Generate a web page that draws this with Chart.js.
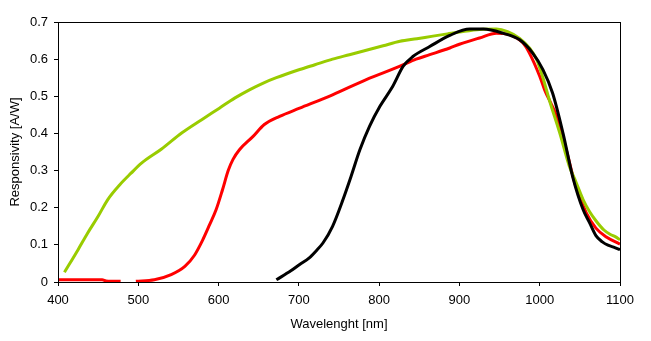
<!DOCTYPE html>
<html>
<head>
<meta charset="utf-8">
<script src="https://cdn.jsdelivr.net/npm/chart.js@4/dist/chart.umd.min.js"></script>
<style>
  html, body { margin: 0; padding: 0; background: #fff; }
  canvas { display: block; }
</style>
</head>
<body>
<canvas id="resp" width="651" height="341"></canvas>
<script>
// wavelength [nm] and responsivity [A/W]
const greenNm = [408, 425, 437, 450, 462, 477, 491, 504, 529, 554, 579, 601, 620, 639, 655, 672, 701, 720, 742, 763, 784, 805, 826, 847, 867, 885, 900, 925, 946, 960, 975, 988, 996, 1004, 1012, 1025, 1037, 1045, 1054, 1062, 1070, 1080, 1088, 1094, 1100];
const greenResp = [0.026, 0.087, 0.132, 0.177, 0.222, 0.262, 0.293, 0.32, 0.358, 0.401, 0.437, 0.468, 0.495, 0.518, 0.535, 0.55, 0.572, 0.585, 0.6, 0.612, 0.624, 0.636, 0.648, 0.655, 0.662, 0.668, 0.673, 0.68, 0.681, 0.674, 0.656, 0.628, 0.6, 0.55, 0.49, 0.401, 0.311, 0.27, 0.222, 0.19, 0.165, 0.14, 0.128, 0.122, 0.114];

const redNm = [400, 430, 455, 460, 478, 488, 497, 520, 541, 558, 570, 580, 589, 597, 605, 612, 618, 626, 643, 657, 676, 701, 742, 784, 826, 846, 863, 888, 900, 925, 946, 962, 979, 987, 1000, 1006, 1021, 1033, 1045, 1058, 1070, 1083, 1100];
const redResp = [0.006, 0.006, 0.006, 0.003, 0.002, null, 0.002, 0.006, 0.02, 0.042, 0.072, 0.112, 0.155, 0.195, 0.249, 0.3, 0.33, 0.356, 0.392, 0.424, 0.446, 0.468, 0.504, 0.545, 0.581, 0.6, 0.612, 0.63, 0.64, 0.657, 0.67, 0.666, 0.644, 0.617, 0.554, 0.518, 0.446, 0.356, 0.257, 0.186, 0.145, 0.121, 0.102];

const blackNm = [672, 690, 701, 713, 722, 730, 742, 755, 765, 776, 788, 801, 817, 830, 842, 863, 888, 913, 930, 954, 975, 991, 1004, 1016, 1029, 1041, 1054, 1062, 1070, 1078, 1085, 1092, 1100];
const blackResp = [0.006, 0.03, 0.047, 0.065, 0.085, 0.105, 0.15, 0.222, 0.284, 0.356, 0.419, 0.473, 0.527, 0.581, 0.607, 0.634, 0.664, 0.681, 0.681, 0.67, 0.652, 0.617, 0.572, 0.509, 0.401, 0.284, 0.195, 0.16, 0.125, 0.108, 0.099, 0.094, 0.087];

const toPoints = (xs, ys) => xs.map((x, i) => ({ x: x, y: ys[i] }));

// box round the plot area
const frame = {
  id: 'frame',
  afterDraw(chart) {
    const a = chart.chartArea;
    const ctx = chart.ctx;
    ctx.save();
    ctx.strokeStyle = '#000';
    ctx.lineWidth = 1;
    ctx.strokeRect(Math.round(a.left) + 0.5, Math.round(a.top) + 0.5, Math.round(a.right - a.left), Math.round(a.bottom - a.top));
    ctx.restore();
  }
};

const font = { family: '"Liberation Sans", Arial, sans-serif', size: 13 };

const ctx = document.getElementById('resp').getContext('2d');
const respChart = new Chart(ctx, {
  type: 'line',
  data: {
    datasets: [
      { label: 'black', data: toPoints(blackNm, blackResp), borderColor: '#000000' },
      { label: 'green', data: toPoints(greenNm, greenResp), borderColor: '#99cc00' },
      { label: 'red', data: toPoints(redNm, redResp), borderColor: '#ff0000' }
    ]
  },
  options: {
    responsive: false,
    animation: false,
    layout: { padding: { top: 22, right: 31, bottom: 0, left: 0 } },
    elements: {
      point: { radius: 0 },
      line: { borderWidth: 3, tension: 0, cubicInterpolationMode: 'monotone', fill: false }
    },
    spanGaps: false,
    plugins: { legend: { display: false }, tooltip: { enabled: false } },
    scales: {
      x: {
        type: 'linear',
        min: 400,
        max: 1100,
        afterFit: s => { s.height = 59; },
        ticks: { stepSize: 100, color: '#000', font: font, padding: 7, maxRotation: 0, callback: v => String(v) },
        grid: { drawOnChartArea: false, drawTicks: true, tickLength: 4, color: '#000' },
        border: { display: false },
        title: { display: true, text: 'Wavelenght [nm]', color: '#000', font: font, padding: { top: 0, bottom: 9 } }
      },
      y: {
        min: 0,
        max: 0.7,
        afterFit: s => { s.width = 58; },
        ticks: { stepSize: 0.1, color: '#000', font: font, padding: 6, callback: v => v === 0 ? '0' : v.toFixed(1) },
        grid: { drawOnChartArea: false, drawTicks: true, tickLength: 4, color: '#000' },
        border: { display: false },
        title: { display: true, text: 'Responsivity [A/W]', color: '#000', font: font, padding: { top: 8, bottom: 0 } }
      }
    }
  },
  plugins: [frame]
});
</script>
</body>
</html>
